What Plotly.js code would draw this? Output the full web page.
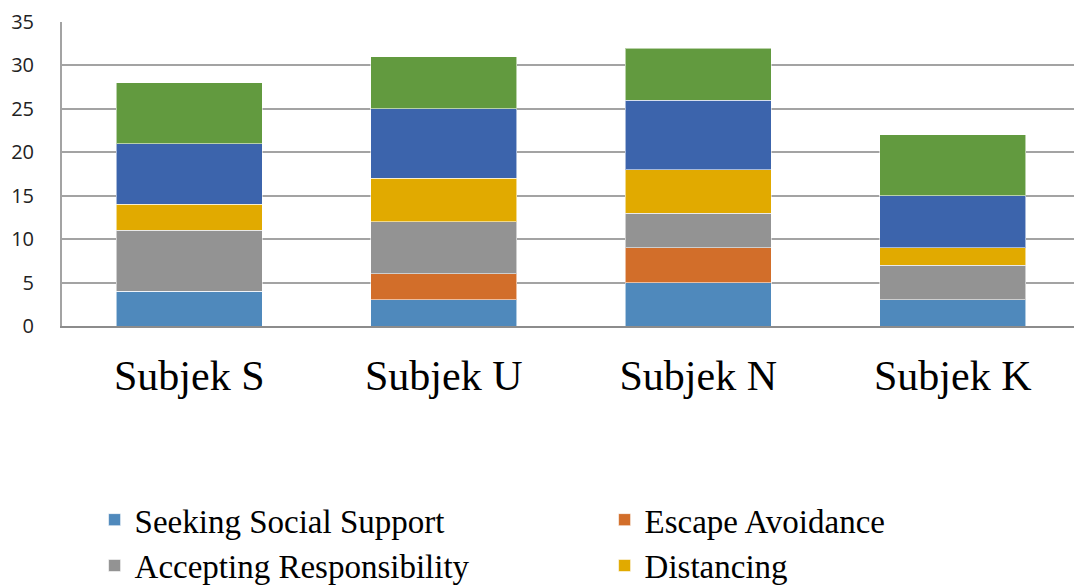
<!DOCTYPE html>
<html>
<head>
<meta charset="utf-8">
<script src="https://cdn.plot.ly/plotly-3.0.1.min.js"></script>
<style>
html, body { margin: 0; padding: 0; overflow: hidden; background: #fff; }
#chart { width: 1200px; height: 720px; }
</style>
</head>
<body>
<div id="chart"></div>
<script>
const categories = ["Subjek S", "Subjek U", "Subjek N", "Subjek K"];
const seekingSocialSupport = [4, 3, 5, 3];
const escapeAvoidance = [0, 3, 4, 0];
const acceptingResponsibility = [7, 6, 4, 4];
const distancing = [3, 5, 5, 2];
const planfulProblemSolving = [7, 8, 8, 6];
const positiveReappraisal = [7, 6, 6, 7];
const yTicks = [0, 5, 10, 15, 20, 25, 30, 35];

const series = [
  { name: "Seeking Social Support", values: seekingSocialSupport, color: "#4f89bc" },
  { name: "Escape Avoidance", values: escapeAvoidance, color: "#d26e2a" },
  { name: "Accepting Responsibility", values: acceptingResponsibility, color: "#939393" },
  { name: "Distancing", values: distancing, color: "#e1aa00" },
  { name: "Planful Problem Solving", values: planfulProblemSolving, color: "#3c64ac" },
  { name: "Positive Reappraisal", values: positiveReappraisal, color: "#629a3f" }
];

const traces = series.map(s => ({
  type: "bar",
  name: s.name,
  x: categories,
  y: s.values,
  marker: { color: s.color, line: { color: "rgba(255,255,255,0.55)", width: 1 } },
  hoverinfo: "x+y+name"
}));

const layout = {
  width: 1200,
  height: 720,
  margin: { l: 62, r: 120, t: 22, b: 394, autoexpand: false },
  barmode: "stack",
  bargap: 0.426,
  paper_bgcolor: "#ffffff",
  plot_bgcolor: "#ffffff",
  showlegend: true,
  xaxis: {
    type: "category",
    showline: true,
    linecolor: "#8c8c8c",
    linewidth: 2,
    ticks: "",
    ticklabelstandoff: 12,
    tickfont: { family: "Liberation Serif, Times New Roman, serif", size: 42, color: "#000000" }
  },
  yaxis: {
    range: [0, 35],
    tickvals: yTicks,
    ticktext: yTicks.map(String),
    showgrid: true,
    gridcolor: "#a3a3a3",
    gridwidth: 2,
    showline: true,
    linecolor: "#a3a3a3",
    linewidth: 2,
    zeroline: false,
    ticks: "",
    ticklabelstandoff: 22,
    tickfont: { family: "Open Sans, Liberation Sans, sans-serif", size: 20, color: "#222222" }
  },
  legend: {
    orientation: "h",
    traceorder: "normal",
    x: 0.032,
    xanchor: "left",
    y: -0.545,
    yanchor: "top",
    entrywidth: 465,
    entrywidthmode: "pixels",
    font: { family: "Liberation Serif, Times New Roman, serif", size: 33, color: "#000000" },
    bgcolor: "rgba(0,0,0,0)"
  }
};

Plotly.newPlot("chart", traces, layout, { displayModeBar: false, staticPlot: true });
</script>
</body>
</html>
